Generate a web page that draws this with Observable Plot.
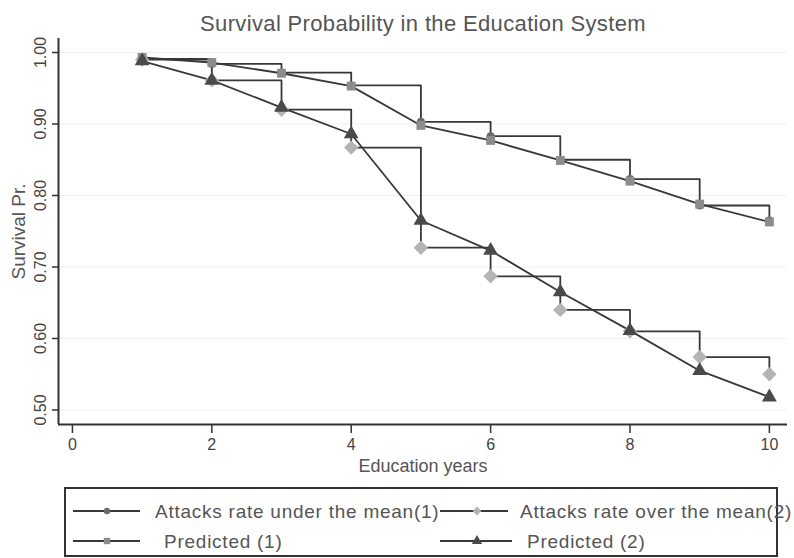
<!DOCTYPE html>
<html>
<head>
<meta charset="utf-8">
<script src="https://cdn.jsdelivr.net/npm/d3@7"></script>
<script src="https://cdn.jsdelivr.net/npm/@observablehq/plot@0.6"></script>
<style>
  html, body { margin: 0; padding: 0; background: #fff; }
  #wrap { position: relative; width: 794px; height: 558px; overflow: hidden; background: #fff; }
  #legend { position: absolute; left: 0; top: 480px; }
</style>
</head>
<body>
<div id="wrap"></div>
<script>
// ---- data ----
const years = [1, 2, 3, 4, 5, 6, 7, 8, 9, 10];
const obsUnder = [0.991, 0.984, 0.972, 0.954, 0.903, 0.883, 0.850, 0.823, 0.786, 0.765];
const obsOver  = [0.990, 0.961, 0.920, 0.867, 0.727, 0.687, 0.640, 0.610, 0.574, 0.550];
const pred1    = [0.993, 0.986, 0.971, 0.953, 0.898, 0.877, 0.849, 0.820, 0.788, 0.763];
const pred2    = [0.988, 0.961, 0.923, 0.886, 0.765, 0.723, 0.665, 0.611, 0.555, 0.518];
const xTicks = [0, 2, 4, 6, 8, 10];
const yTicks = [0.5, 0.6, 0.7, 0.8, 0.9, 1.0];
const titleText = "Survival Probability in the Education System";
const xLabel = "Education years";
const yLabel = "Survival Pr.";
const legendLabels = ["Attacks rate under the mean(1)", "Attacks rate over the mean(2)", "Predicted (1)", "Predicted (2)"];

const rows = vals => years.map((x, i) => ({x, y: vals[i]}));
const dUnder = rows(obsUnder), dOver = rows(obsOver), dP1 = rows(pred1), dP2 = rows(pred2);

const FONT = "'Liberation Sans', Arial, sans-serif";
const LINE = "#383838";
const xDom = [-0.2, 10.26], yDom = [0.4797, 1.0196];

const chart = Plot.plot({
  width: 794, height: 480,
  marginLeft: 58, marginRight: 7, marginTop: 38, marginBottom: 56,
  x: {domain: xDom},
  y: {domain: yDom},
  style: {fontFamily: FONT, color: "#444", background: "transparent", overflow: "visible"},
  marks: [
    Plot.ruleY(yTicks, {stroke: "#f0f0f0", strokeWidth: 1}),
    Plot.line(dUnder, {x: "x", y: "y", curve: "step-after", stroke: LINE, strokeWidth: 1.8}),
    Plot.line(dOver, {x: "x", y: "y", curve: "step-after", stroke: LINE, strokeWidth: 1.8}),
    Plot.line(dP1, {x: "x", y: "y", stroke: LINE, strokeWidth: 1.8}),
    Plot.line(dP2, {x: "x", y: "y", stroke: LINE, strokeWidth: 1.8}),
    Plot.dot(dUnder, {x: "x", y: "y", symbol: "circle", fill: "#6a6a6a", r: 4}),
    Plot.dot(dOver, {x: "x", y: "y", symbol: "diamond2", fill: "#b4b4b4", r: 6.5}),
    Plot.dot(dP1, {x: "x", y: "y", symbol: "square", fill: "#8c8c8c", r: 5}),
    Plot.dot(dP2, {x: "x", y: "y", symbol: "triangle", fill: "#4a4a4a", r: 5.5}),
    Plot.ruleX([xDom[0]], {stroke: "#333", strokeWidth: 2}),
    Plot.ruleY([yDom[0]], {stroke: "#333", strokeWidth: 2}),
    Plot.axisY(yTicks, {tickFormat: d3.format(".2f"), tickSize: 6, tickPadding: 7, tickRotate: -90, fontSize: 16, label: null, stroke: "#333", strokeWidth: 1.5}),
    Plot.axisX(xTicks, {tickSize: 9, tickPadding: 5, fontSize: 16, label: null, stroke: "#333", strokeWidth: 1.5}),
    Plot.text([titleText], {frameAnchor: "top", dy: -15, lineAnchor: "middle", textAnchor: "middle", fontSize: 22, fill: "#555"}),
    Plot.text([xLabel], {frameAnchor: "bottom", dy: 42, lineAnchor: "middle", textAnchor: "middle", fontSize: 18, fill: "#555"}),
    Plot.text([yLabel], {frameAnchor: "left", dx: -40, rotate: -90, lineAnchor: "middle", textAnchor: "middle", fontSize: 19, fill: "#555"})
  ]
});
d3.select(chart).selectAll("text").filter(function() { return this.textContent === titleText; })
  .style("letter-spacing", "0.35px");
document.getElementById("wrap").appendChild(chart);

// ---- legend below the chart ----
const leg = d3.select("#wrap").append("svg")
  .attr("id", "legend").attr("width", 794).attr("height", 78)
  .style("overflow", "visible").style("font-family", FONT);
leg.append("rect").attr("x", 65).attr("y", 8).attr("width", 712).attr("height", 68)
  .attr("fill", "none").attr("stroke", "#333").attr("stroke-width", 2);
const items = [
  {x1: 73, x2: 140, mx: 107, y: 31, sym: d3.symbolCircle, r: 3.2, fill: "#6a6a6a", tx: 155, label: legendLabels[0]},
  {x1: 440, x2: 508, mx: 477, y: 31, sym: d3.symbolDiamond2, r: 4, fill: "#b4b4b4", tx: 520, label: legendLabels[1]},
  {x1: 73, x2: 140, mx: 107, y: 61, sym: d3.symbolSquare, r: 3.6, fill: "#8c8c8c", tx: 164, label: legendLabels[2]},
  {x1: 440, x2: 512, mx: 477, y: 61, sym: d3.symbolTriangle, r: 3.8, fill: "#4a4a4a", tx: 527, label: legendLabels[3]}
];
for (const it of items) {
  leg.append("line").attr("x1", it.x1).attr("x2", it.x2).attr("y1", it.y).attr("y2", it.y)
    .attr("stroke", LINE).attr("stroke-width", 1.8);
  leg.append("path").attr("d", d3.symbol(it.sym, Math.PI * it.r * it.r)())
    .attr("transform", `translate(${it.mx},${it.y})`).attr("fill", it.fill);
  leg.append("text").attr("x", it.tx).attr("y", it.y).attr("dy", "0.35em")
    .attr("font-size", 19).attr("fill", "#555").style("letter-spacing", "0.75px").text(it.label);
}
</script>
</body>
</html>
